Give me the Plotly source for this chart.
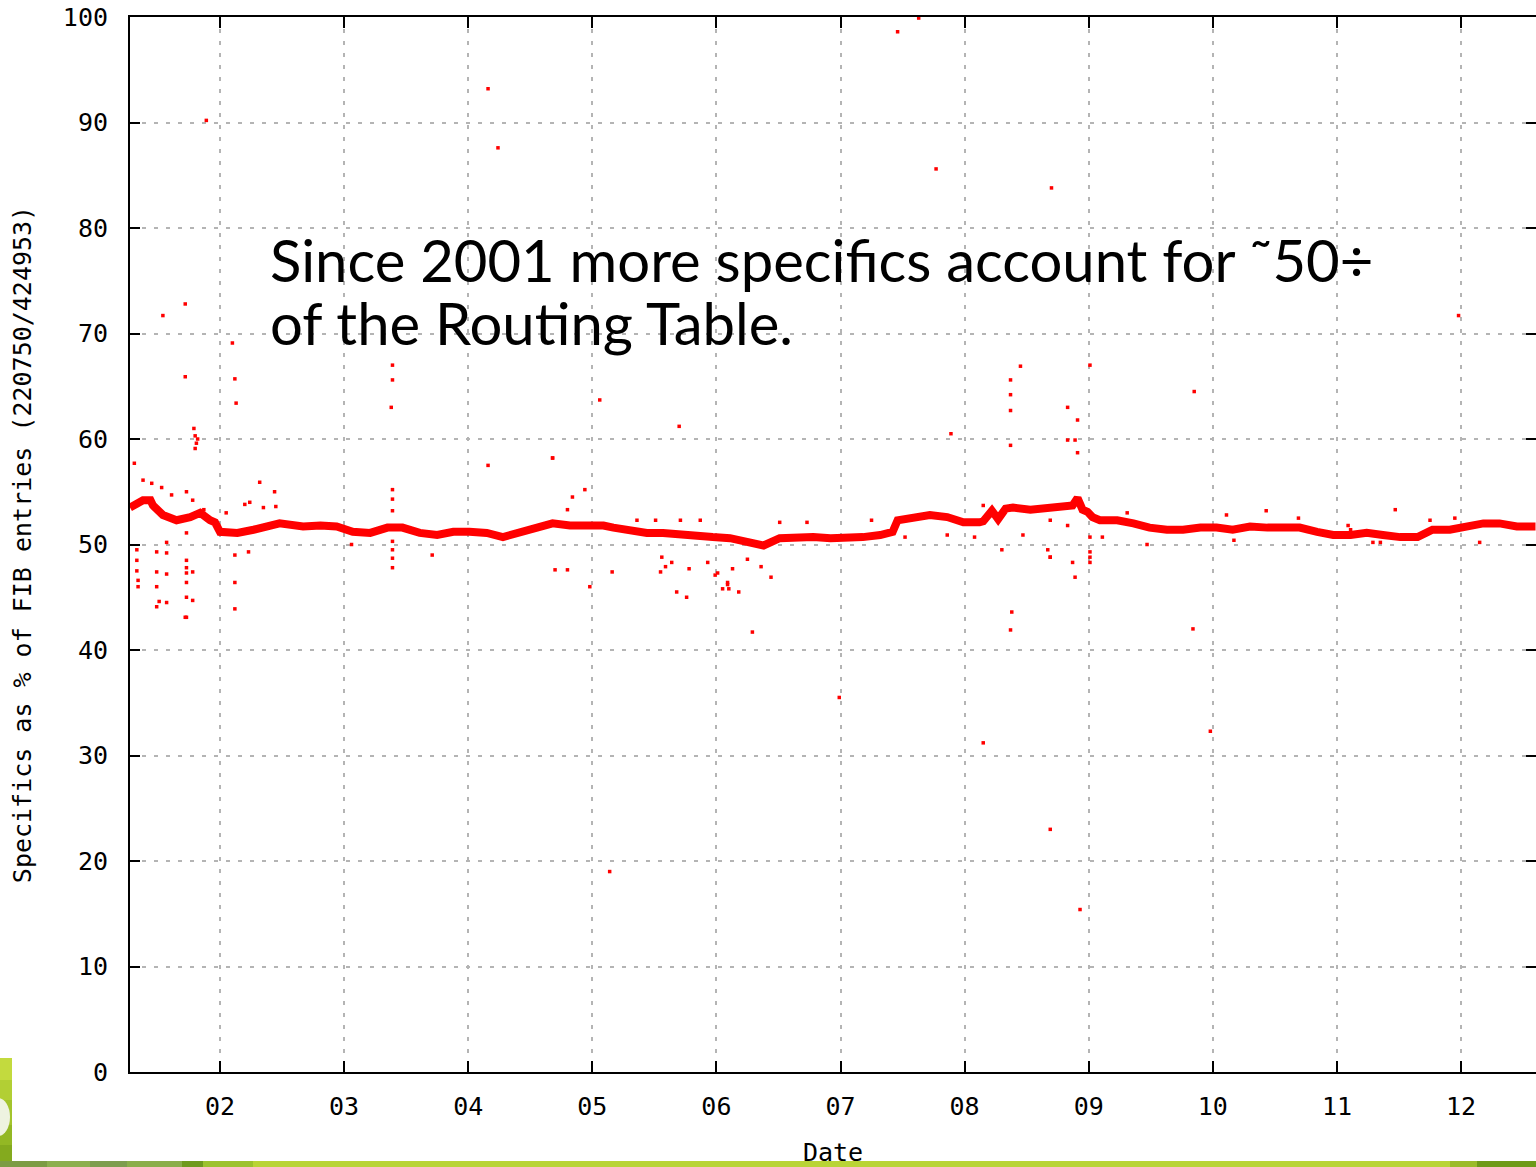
import plotly.graph_objects as go

# ---------------- data ----------------
tick_years = [2002, 2003, 2004, 2005, 2006, 2007, 2008, 2009, 2010, 2011, 2012]
tick_labels = ["02", "03", "04", "05", "06", "07", "08", "09", "10", "11", "12"]
y_ticks = [0, 10, 20, 30, 40, 50, 60, 70, 80, 90, 100]

# main band (specifics as % of FIB entries)
band_year = [2001.275, 2001.33, 2001.38, 2001.44, 2001.46, 2001.54, 2001.65, 2001.76, 2001.84,
             2001.92, 2001.96, 2002.00, 2002.14, 2002.27, 2002.40, 2002.48, 2002.67, 2002.81,
             2002.94, 2003.07, 2003.21, 2003.35, 2003.47, 2003.61, 2003.75, 2003.88, 2004.01,
             2004.15, 2004.28, 2004.42, 2004.55, 2004.68, 2004.82, 2004.96, 2005.09, 2005.17,
             2005.30, 2005.44, 2005.57, 2005.71, 2005.84, 2005.97, 2006.11, 2006.25, 2006.38,
             2006.51, 2006.65, 2006.78, 2006.92, 2007.05, 2007.18, 2007.32, 2007.42, 2007.46,
             2007.58, 2007.72, 2007.86, 2007.99, 2008.12, 2008.15, 2008.22, 2008.27, 2008.33,
             2008.39, 2008.53, 2008.66, 2008.79, 2008.87, 2008.91, 2008.95, 2008.99, 2009.03,
             2009.09, 2009.23, 2009.36, 2009.49, 2009.63, 2009.76, 2009.90, 2010.03, 2010.16,
             2010.30, 2010.44, 2010.57, 2010.70, 2010.84, 2010.97, 2011.11, 2011.24, 2011.37,
             2011.51, 2011.65, 2011.77, 2011.91, 2012.05, 2012.18, 2012.31, 2012.45, 2012.60]
band_value = [53.5, 53.9, 54.2, 54.2, 53.7, 52.8, 52.3, 52.6, 53.0,
              52.3, 52.1, 51.2, 51.1, 51.4, 51.7, 52.0, 51.7, 51.8,
              51.7, 51.2, 51.1, 51.6, 51.6, 51.1, 50.9, 51.2, 51.2,
              51.1, 50.7, 51.1, 51.6, 52.0, 51.8, 51.8, 51.8, 51.6,
              51.4, 51.1, 51.1, 50.9, 50.9, 50.7, 50.6, 50.2, 49.9,
              50.6, 50.7, 50.7, 50.6, 50.6, 50.7, 50.9, 51.2, 52.3,
              52.5, 52.8, 52.6, 52.1, 52.1, 52.2, 53.2, 52.4, 53.4,
              53.5, 53.3, 53.5, 53.6, 53.7, 54.4, 53.3, 53.1, 52.6,
              52.3, 52.3, 52.0, 51.6, 51.4, 51.4, 51.6, 51.6, 51.4,
              51.7, 51.6, 51.6, 51.6, 51.2, 50.9, 50.9, 51.1, 50.9,
              50.7, 50.7, 51.4, 51.4, 51.8, 52.0, 52.0, 51.7, 51.7]

# scattered samples away from the band
dot_year = [2001.31, 2001.38, 2001.45, 2001.53, 2001.61, 2001.73, 2001.78, 2001.87,
            2001.33, 2001.33, 2001.33, 2001.34, 2001.34,
            2001.49, 2001.49, 2001.49, 2001.49,
            2001.57, 2001.57, 2001.57, 2001.57,
            2001.73, 2001.73, 2001.73, 2001.73, 2001.73, 2001.73, 2001.73,
            2001.78, 2001.78, 2002.12, 2002.12, 2002.12, 2002.23,
            2001.79, 2001.80, 2001.81, 2001.80, 2001.82,
            2002.05, 2002.20, 2002.24, 2002.32, 2002.35, 2002.44, 2002.45,
            2003.39, 2003.39, 2003.39, 2003.39, 2003.39, 2003.39, 2003.39,
            2003.06, 2003.71, 2004.16, 2004.68, 2004.84, 2004.94, 2004.80,
            2004.70, 2004.80, 2004.98, 2005.16,
            2005.56, 2005.59, 2005.55, 2005.64, 2005.68, 2005.76, 2005.78,
            2005.93, 2005.99, 2006.01, 2006.09, 2006.09, 2006.05, 2006.10, 2006.18,
            2006.13, 2006.25, 2006.36, 2006.44,
            2005.36, 2005.51, 2005.71, 2005.87, 2006.51, 2006.73, 2007.25,
            2008.15, 2008.83, 2008.91, 2008.30, 2008.47, 2008.67, 2008.69,
            2008.87, 2008.89, 2008.38, 2007.52, 2007.86, 2008.08,
            2008.69, 2008.69, 2008.83, 2009.01, 2009.01, 2009.01, 2009.01,
            2009.11, 2009.47, 2009.31, 2010.11, 2010.43, 2010.69, 2011.47,
            2011.75, 2011.95, 2012.15, 2011.29, 2011.35, 2011.09, 2011.11, 2010.17,
            2001.89, 2001.54, 2001.72, 2001.72, 2002.10, 2002.12, 2002.13,
            2003.39, 2003.39, 2003.38, 2004.16, 2004.24, 2005.06, 2005.70,
            2007.46, 2007.63, 2007.77, 2007.89, 2008.70, 2008.45, 2008.37,
            2008.37, 2008.37, 2008.37, 2009.01, 2008.83, 2008.91, 2008.89,
            2009.85, 2011.98, 2006.99, 2008.15, 2008.69, 2008.93, 2009.98,
            2009.84, 2005.14, 2006.29, 2008.37, 2001.51, 2001.72, 2004.68]
dot_value = [57.7, 56.1, 55.8, 55.4, 54.7, 55.0, 54.2, 53.3,
             49.5, 48.5, 47.5, 46.6, 46.0,
             49.3, 47.4, 46.0, 44.1,
             50.2, 49.2, 47.2, 44.5,
             51.1, 48.5, 47.8, 47.3, 46.4, 45.0, 43.1,
             47.4, 44.7, 49.0, 46.4, 43.9, 49.3,
             61.0, 60.3, 59.6, 59.1, 60.0,
             53.0, 53.8, 54.0, 55.9, 53.5, 55.0, 53.6,
             55.2, 54.3, 53.2, 50.3, 49.5, 48.7, 47.8,
             50.0, 49.0, 57.5, 58.2, 54.5, 55.2, 53.3,
             47.6, 47.6, 46.0, 47.4,
             48.8, 47.9, 47.4, 48.3, 45.5, 45.0, 47.7,
             48.3, 47.1, 47.3, 46.4, 46.2, 45.8, 45.8, 45.5,
             47.7, 48.6, 47.9, 46.9,
             52.3, 52.3, 52.3, 52.3, 52.1, 52.1, 52.3,
             53.7, 59.9, 58.7, 49.5, 50.9, 49.5, 48.8,
             48.3, 46.9, 43.6, 50.7, 50.9, 50.7,
             52.3, 48.8, 51.8, 50.7, 49.3, 48.8, 48.3,
             50.7, 50.0, 53.0, 52.8, 53.2, 52.5, 53.3,
             52.3, 52.5, 50.2, 50.2, 50.2, 51.8, 51.4, 50.4,
             90.2, 71.7, 72.8, 65.9, 69.1, 65.7, 63.4,
             67.0, 65.6, 63.0, 93.2, 87.6, 63.7, 61.2,
             98.6, 99.9, 85.6, 60.5, 83.8, 66.9, 65.6,
             64.2, 62.7, 59.4, 67.0, 63.0, 61.8, 59.9,
             64.5, 71.7, 35.5, 31.2, 23.0, 15.4, 32.3,
             42.0, 19.0, 41.7, 41.9, 44.6, 43.1, 58.2]

note_line1 = "Since 2001 more specifics account for ˜50÷"
note_line2 = "of the Routing Table."

# ---------------- figure ----------------
RED = "#ff0000"
FONT = "DejaVu Sans Mono"

fig = go.Figure()
fig.add_trace(go.Scatter(x=band_year, y=band_value, mode="lines",
                         line=dict(color=RED, width=8), hoverinfo="skip",
                         showlegend=False))
fig.add_trace(go.Scatter(x=dot_year, y=dot_value, mode="markers",
                         marker=dict(color=RED, size=3.5, symbol="square", line=dict(width=0)),
                         hoverinfo="skip", showlegend=False))
# invisible trace to carry the mirrored (top / right) tick axes
fig.add_trace(go.Scatter(x=[2005], y=[50], xaxis="x2", yaxis="y2", mode="markers",
                         marker=dict(opacity=0), hoverinfo="skip", showlegend=False))

x_range = [2001.275, 2012.604]

grid = dict(showgrid=True, gridcolor="#b4b4b4", gridwidth=1.5, griddash="4px,8px")

fig.update_layout(
    width=1536, height=1167,
    margin=dict(l=130, r=0, t=17, b=95, autoexpand=False),
    paper_bgcolor="white", plot_bgcolor="white",
    font=dict(family=FONT, size=25, color="black"),
    xaxis=dict(range=x_range, tickvals=tick_years, ticktext=tick_labels,
               ticks="inside", ticklen=11, tickwidth=2, tickcolor="black",
               showline=True, linewidth=2, linecolor="black", zeroline=False,
               ticklabelstandoff=11, automargin=False,
               title=dict(text="Date", standoff=23, font=dict(family=FONT, size=25)),
               tickfont=dict(family=FONT, size=25), **grid),
    yaxis=dict(range=[0, 100], tickvals=y_ticks,
               ticks="inside", ticklen=10, tickwidth=2, tickcolor="black",
               showline=True, linewidth=2, linecolor="black", zeroline=False,
               ticklabelstandoff=15, automargin=False,
               title=dict(text="Specifics as % of FIB entries (220750/424953)", standoff=24,
                          font=dict(family=FONT, size=25)),
               tickfont=dict(family=FONT, size=25), **grid),
    xaxis2=dict(overlaying="x", side="top", range=x_range, tickvals=tick_years,
                showticklabels=False, ticks="inside", ticklen=11, tickwidth=2,
                tickcolor="black", showline=True, linewidth=2, linecolor="black",
                showgrid=False, zeroline=False),
    yaxis2=dict(overlaying="y", side="right", range=[0, 100], tickvals=y_ticks,
                showticklabels=False, ticks="inside", ticklen=10, tickwidth=2,
                tickcolor="black", showline=False, showgrid=False, zeroline=False),
)

# helpers to place decorations in pixel terms
PW, PH = 1406.0, 1055.0
def px(xp):
    return (xp - 130) / PW
def py(yp):
    return (1072 - yp) / PH

shapes = []
# white panel behind the handwritten note
shapes.append(dict(type="rect", xref="paper", yref="paper", x0=px(252), x1=px(1360),
                   y0=py(355), y1=py(218), fillcolor="white", line=dict(width=0),
                   layer="between"))
# slide decoration: bottom bar
bar = [(0, 47, "#7c9c44"), (47, 90, "#8caf4e"), (90, 127, "#7d9d4e"), (127, 182, "#8aae4a"),
       (182, 203, "#6f9a1e"), (203, 253, "#9cc22e"), (253, 1450, "#b9d436"),
       (1450, 1477, "#9bbb2a"), (1477, 1536, "#6e9a18")]
for a, b, c in bar:
    shapes.append(dict(type="rect", xref="paper", yref="paper", x0=px(a), x1=px(b),
                       y0=py(1167), y1=py(1161), fillcolor=c, line=dict(width=0), layer="above"))
# slide decoration: left green block
left = [(1058, 1080, "#c3da3e"), (1080, 1100, "#b2cf34"), (1100, 1125, "#a3c42c"),
        (1125, 1145, "#93b824"), (1145, 1161, "#84aa1e")]
for a, b, c in left:
    shapes.append(dict(type="rect", xref="paper", yref="paper", x0=px(0), x1=px(12),
                       y0=py(b), y1=py(a), fillcolor=c, line=dict(width=0), layer="above"))
shapes.append(dict(type="circle", xref="paper", yref="paper", x0=px(-14), x1=px(10),
                   y0=py(1136), y1=py(1098), fillcolor="#eef3e0", line=dict(width=0),
                   layer="above"))
fig.update_layout(shapes=shapes)

hand = dict(family="Lato, Open Sans, sans-serif", size=58, color="black")
fig.add_annotation(text=note_line1, xref="paper", yref="paper", x=px(268), y=py(259),
                   xanchor="left", yanchor="middle", showarrow=False, font=hand)
fig.add_annotation(text=note_line2, xref="paper", yref="paper", x=px(268), y=py(322),
                   xanchor="left", yanchor="middle", showarrow=False, font=hand)

fig.write_html("out.html", config={"displayModeBar": False},
               post_script="document.body.style.margin='0';document.body.style.overflow='hidden';")
